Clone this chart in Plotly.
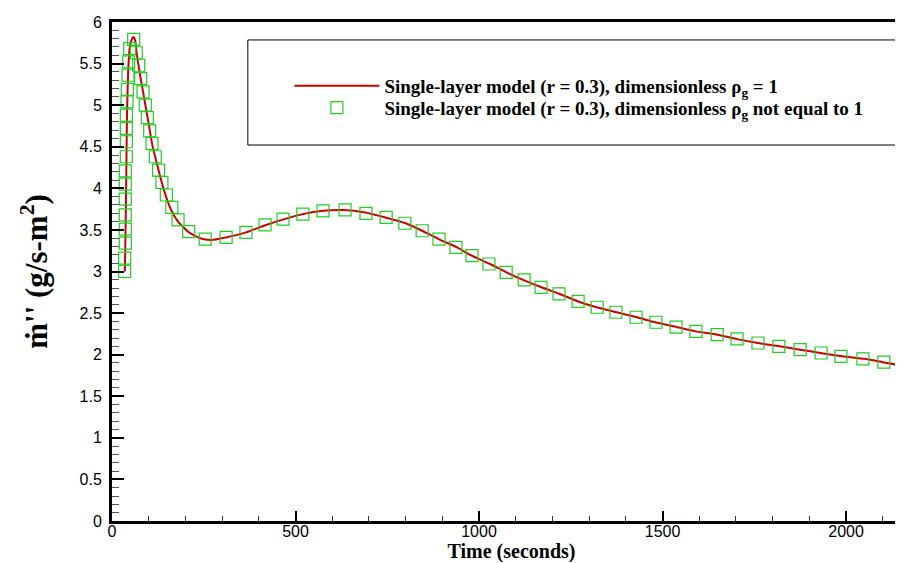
import plotly.graph_objects as go

# Red line (continuous model, dimensionless rho_g = 1)
line_t = [35, 37, 39, 41, 44, 48, 53, 58, 63, 68, 75, 85, 97, 110, 125, 140, 160, 180,
          210, 240, 270, 310, 365, 420, 470, 520, 575, 630, 690, 745, 800, 845, 890,
          940, 980, 1030, 1075, 1120, 1170, 1220, 1270, 1320, 1375, 1430, 1480, 1540,
          1590, 1650, 1700, 1760, 1820, 1875, 1930, 1990, 2050, 2100, 2150]
line_m = [3.0, 3.5, 4.2, 4.9, 5.4, 5.68, 5.78, 5.82, 5.78, 5.6, 5.4, 5.15, 4.85, 4.52,
          4.25, 4.0, 3.75, 3.6, 3.47, 3.4, 3.38, 3.41, 3.47, 3.56, 3.63, 3.69, 3.73,
          3.74, 3.71, 3.65, 3.58, 3.49, 3.39, 3.29, 3.19, 3.09, 2.99, 2.90, 2.81, 2.73,
          2.64, 2.57, 2.51, 2.45, 2.39, 2.33, 2.28, 2.24, 2.19, 2.14, 2.10, 2.06, 2.02,
          1.98, 1.95, 1.91, 1.87]

# Green squares (dimensionless rho_g not equal to 1)
sq_t = [34.6, 34.6, 36.2, 36.2, 36.2, 36.2, 36.2, 36.2, 39.0, 39.0, 39.0, 39.0, 40.9,
        41.7, 43.6, 45.5, 48.2, 59.1, 66.2, 72.8, 78.2, 84.5, 90.7, 96.2, 102.7, 109,
        118, 127, 136, 148, 163, 180, 209, 254, 311, 365, 417, 466, 520, 575, 635, 692,
        747, 798, 845, 891, 937, 981, 1027, 1074, 1123, 1169, 1218, 1270, 1322, 1373,
        1428, 1482, 1537, 1591, 1649, 1703, 1760, 1817, 1875, 1932, 1986, 2046, 2103]
sq_m = [3.00, 3.16, 3.34, 3.51, 3.68, 3.87, 4.05, 4.21, 4.38, 4.56, 4.72, 4.88, 5.04,
        5.19, 5.36, 5.52, 5.68, 5.79, 5.63, 5.48, 5.32, 5.16, 5.00, 4.85, 4.69, 4.54,
        4.38, 4.22, 4.07, 3.92, 3.77, 3.62, 3.48, 3.39, 3.41, 3.47, 3.56, 3.63, 3.69,
        3.73, 3.74, 3.70, 3.65, 3.58, 3.49, 3.39, 3.29, 3.19, 3.09, 2.99, 2.90, 2.81,
        2.73, 2.64, 2.57, 2.51, 2.45, 2.39, 2.33, 2.28, 2.24, 2.19, 2.14, 2.10, 2.06,
        2.02, 1.98, 1.95, 1.91]

x_ticks = [0, 500, 1000, 1500, 2000]
y_ticks = [0, 0.5, 1, 1.5, 2, 2.5, 3, 3.5, 4, 4.5, 5, 5.5, 6]
y_tick_text = ["0", "0.5", "1", "1.5", "2", "2.5", "3", "3.5", "4", "4.5", "5", "5.5", "6"]

name1 = "<b>Single-layer model (r = 0.3), dimensionless \u03c1<sub>g</sub> = 1</b>"
name2 = "<b>Single-layer model (r = 0.3), dimensionless \u03c1<sub>g</sub> not equal to 1</b>"

serif = "Liberation Serif, Times New Roman, serif"
fig = go.Figure()
fig.add_trace(go.Scatter(x=line_t, y=line_m, mode="lines", name=name1, legend="legend",
                         line=dict(color="#cc0000", width=2, shape="spline", smoothing=0.5)))
fig.add_trace(go.Scatter(x=sq_t, y=sq_m, mode="markers", name=name2, legend="legend2",
                         marker=dict(symbol="square-open", size=12, color="#22cc22",
                                     line=dict(width=1.2, color="#22cc22"))))

tickfont = dict(family="Liberation Sans, Arial, sans-serif", size=16, color="black")
legfont = dict(family=serif, size=19, color="black")

fig.update_layout(
    width=903, height=563,
    margin=dict(l=104, r=0, t=14, b=50),
    paper_bgcolor="white", plot_bgcolor="white",
    showlegend=True,
    legend=dict(x=0.222, y=0.872, xanchor="left", yanchor="middle",
                bgcolor="rgba(0,0,0,0)", borderwidth=0, itemwidth=85, font=legfont),
    legend2=dict(x=0.222, y=0.828, xanchor="left", yanchor="middle",
                 bgcolor="rgba(0,0,0,0)", borderwidth=0, itemwidth=85, font=legfont),
    xaxis=dict(range=[0, 2177], tickvals=x_ticks, ticks="inside", ticklen=10, tickwidth=2,
               tickcolor="black", showline=True, linewidth=3, linecolor="black",
               mirror=True, showgrid=False, zeroline=False, tickfont=tickfont,
               ticklabelstandoff=-6,
               minor=dict(dtick=100, ticks="inside", ticklen=5, tickwidth=1,
                          tickcolor="#333", showgrid=False),
               title=dict(text="<b>Time (seconds)</b>", standoff=0,
                          font=dict(family=serif, size=20, color="black"))),
    yaxis=dict(range=[0, 6], tickvals=y_ticks, ticktext=y_tick_text, ticks="inside",
               ticklen=12, tickwidth=2, tickcolor="black", showline=True, linewidth=3,
               linecolor="black", mirror=False, showgrid=False, zeroline=False,
               tickfont=tickfont, ticklabelstandoff=4,
               minor=dict(dtick=0.1, ticks="inside", ticklen=7, tickwidth=1,
                          tickcolor="#555", showgrid=False),
               title=dict(text="<b>\u1e41''\u00a0(g/s-m<sup>2</sup>)</b>",
                          standoff=23,
                          font=dict(family=serif, size=31, color="black"))),
    shapes=[dict(type="rect", xref="paper", yref="paper", x0=0.170, x1=0.995,
                 y0=0.7535, y1=0.964, line=dict(color="black", width=1),
                 fillcolor="rgba(0,0,0,0)")],
)

fig.write_html("out.html")
